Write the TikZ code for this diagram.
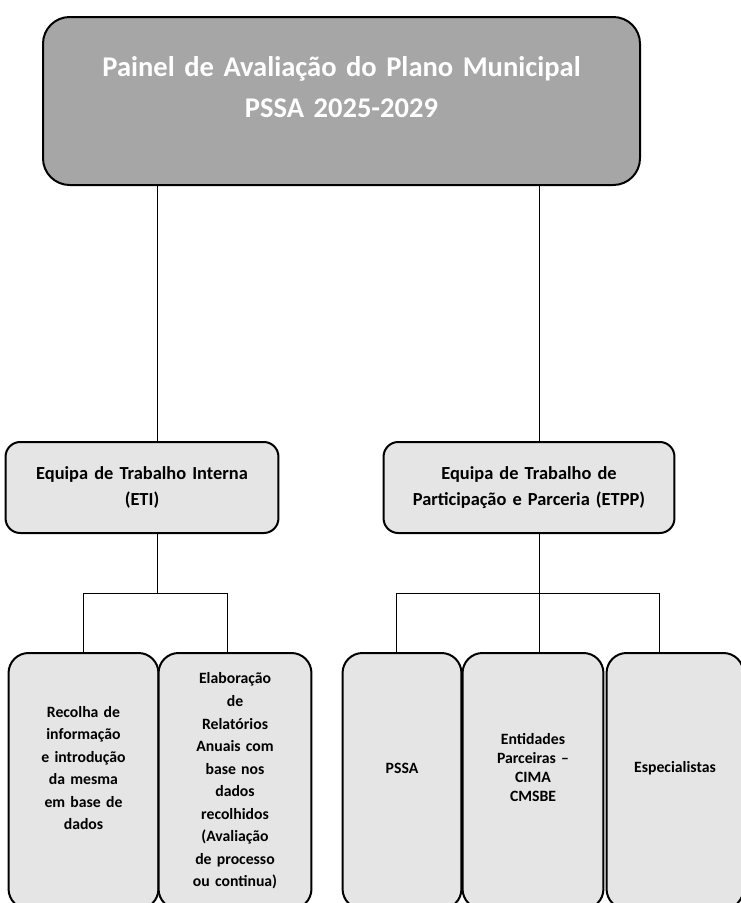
\documentclass[tikz,border=0pt]{standalone}
\usepackage{fontspec}
\setmainfont{Carlito}
\usepackage{tikz}
\usetikzlibrary{positioning}
\usepackage{xcolor}

\begin{document}
\begin{tikzpicture}[x=0.75pt, y=-0.75pt]
  \colorlet{panelcol}{black!35}
  \colorlet{teamcol}{black!10}
  \colorlet{taskcol}{black!10}

  \tikzset{
    panelbox/.style={
      rectangle, rounded corners=20pt,
      minimum width=447.75pt, minimum height=126pt,
      text width=440pt, align=center,
      font=\bfseries\fontsize{21.4}{30.75}\selectfont,
      draw=black, line width=1.5pt,
      fill=panelcol, text=white
    },
    teambox/.style={
      rectangle, rounded corners=11pt,
      minimum width=#1, minimum height=68.25pt,
      text width=#1, align=center,
      font=\bfseries\fontsize{13.8}{19.5}\selectfont,
      draw=black, line width=1.5pt,
      fill=teamcol
    },
    taskbox/.style={
      rectangle, rounded corners=15pt,
      minimum width=#1, minimum height=192pt,
      text width=#1, align=center,
      font=\bfseries\fontsize{11.8}{16.9}\selectfont,
      draw=black, line width=1.5pt,
      fill=taskcol
    },
    lift/.style={execute at end node={\par\vspace*{#1}}},
    link/.style={draw=black, line width=0.75pt}
  }

  \useasboundingbox (0,0) rectangle (741,903);

  % top panel
  \node[panelbox, lift=21pt] (panel) at (341.5,101)
    {Painel de Avaliação do Plano Municipal\\PSSA 2025-2029};

  % teams
  \node[teambox=198pt] (eti) at (142,487.5)
    {Equipa de Trabalho Interna\\(ETI)};
  \node[teambox=211.5pt] (etpp) at (529,487.5)
    {Equipa de Trabalho de\\Participação e Parceria (ETPP)};

  % tasks
  \node[taskbox=105.75pt, lift=19.5pt] (recolha) at (83.5,781)
    {Recolha de\\informação\\e introdução\\da mesma\\em base de\\dados};
  \node[taskbox=108pt] (relatorios) at (235,781)
    {Elaboração\\de\\Relatórios\\Anuais com\\base nos\\dados\\recolhidos\\(Avaliação\\de processo\\ou continua)};
  \node[taskbox=82.5pt, lift=19.5pt] (pssa) at (402,781) {PSSA};
  \node[taskbox=99pt, lift=19.5pt,
    font=\bfseries\fontsize{11.8}{14.25}\selectfont] (entidades) at (533,781)
    {Entidades\\Parceiras --\\CIMA\\CMSBE};
  \node[taskbox=96pt, lift=19.5pt] (especialistas) at (675,781) {Especialistas};

  % junctions
  \coordinate (jL) at (157,593);
  \coordinate (jR) at (539,593);
  \coordinate (dRel) at (227,593);
  \coordinate (dPssa) at (396,593);
  \coordinate (dEsp) at (659,593);

  \draw[link] (panel.south -| jL) -- (eti.north -| jL);
  \draw[link] (panel.south -| jR) -- (etpp.north -| jR);
  \draw[link] (eti.south -| jL) -- (jL);
  \draw[link] (etpp.south -| jR) -- (jR);

  \draw[link] (recolha.north) -- (recolha.north |- jL) -- (dRel) -- (dRel |- relatorios.north);
  \draw[link] (dPssa |- pssa.north) -- (dPssa) -- (dEsp) -- (dEsp |- especialistas.north);
  \draw[link] (jR) -- (jR |- entidades.north);
\end{tikzpicture}
\end{document}
